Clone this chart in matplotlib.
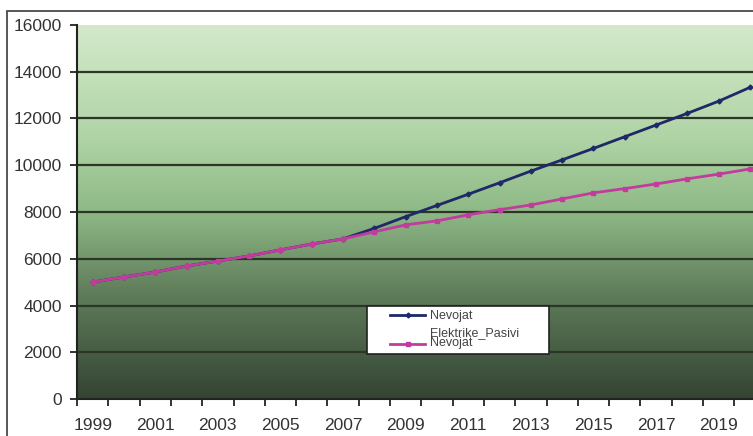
import numpy as np
import matplotlib.pyplot as plt
from matplotlib.colors import LinearSegmentedColormap
from matplotlib.patches import Rectangle
from matplotlib.legend_handler import HandlerLine2D

plt.rcParams['font.family'] = ['Liberation Sans', 'DejaVu Sans']

years = list(range(1999, 2021))
# demand, full scenario
nevojat = [5000, 5220, 5430, 5690, 5900, 6120, 6380, 6630, 6850, 7300, 7800,
           8280, 8760, 9250, 9750, 10230, 10720, 11220, 11720, 12220, 12740, 13330]
# demand with passive measures
nevojat_pasivi = [5000, 5220, 5430, 5690, 5900, 6120, 6380, 6630, 6850, 7150, 7450,
                  7620, 7880, 8100, 8300, 8560, 8820, 9000, 9200, 9420, 9620, 9840]
y_ticks = list(range(0, 16001, 2000))


class LoweredKey(HandlerLine2D):
    # legend key pushed down onto the last line of a two-line label
    def __init__(self, drop=0.0, **kw):
        super().__init__(**kw)
        self.drop = drop

    def create_artists(self, legend, orig_handle, xdescent, ydescent, width,
                       height, fontsize, trans):
        arts = super().create_artists(legend, orig_handle, xdescent, ydescent,
                                      width, height, fontsize, trans)
        for a in arts:
            a.set_ydata(np.asarray(a.get_ydata()) - self.drop * fontsize)
        return arts


fig = plt.figure(figsize=(7.53, 4.36), dpi=100)
fig.patch.set_facecolor('white')

# outer chart frame (runs off the right and bottom edges)
fig.patches.append(Rectangle((7 / 753, -0.2), 1.2, 1 - 11 / 436 + 0.2,
                             transform=fig.transFigure, fill=False,
                             edgecolor='#4a4a4a', linewidth=1.3))

ax = fig.add_axes([77 / 753, (436 - 399) / 436, 688.6 / 753, 374 / 436])

x = np.arange(len(years))
ax.set_xlim(-0.5, len(years) - 0.5)
ax.set_ylim(0, 16000)

# vertical green gradient behind the plot
grad = LinearSegmentedColormap.from_list('bg', [
    (0.0, (212 / 255, 233 / 255, 203 / 255)),
    (0.3, (176 / 255, 212 / 255, 166 / 255)),
    (0.5, (142 / 255, 185 / 255, 134 / 255)),
    (0.72, (95 / 255, 124 / 255, 90 / 255)),
    (1.0, (52 / 255, 68 / 255, 50 / 255)),
])
ax.imshow(np.linspace(0, 1, 256).reshape(-1, 1), cmap=grad, aspect='auto',
          extent=(-0.5, len(years) - 0.5, 0, 16000), origin='upper',
          interpolation='bicubic', zorder=0)

for v in y_ticks[1:-1]:
    ax.axhline(v, color='#2c3628', linewidth=1.6, zorder=1)

l1, = ax.plot(x, nevojat, color='#1f2868', linewidth=2.0, marker='D',
              markersize=2.5, label='Nevojat', zorder=3)
l2, = ax.plot(x, nevojat_pasivi, color='#c23c9e', linewidth=2.0, marker='s',
              markersize=2.5, label='Elektrike_Pasivi\nNevojat', zorder=4)

ax.set_yticks(y_ticks)
ax.set_yticklabels([str(v) for v in y_ticks])
ax.set_xticks(x[::2])
ax.set_xticklabels([str(y) for y in years[::2]])
ax.set_xticks(np.arange(-0.5, len(years), 1), minor=True)
ax.tick_params(axis='x', which='major', length=0, pad=14)
ax.tick_params(axis='x', which='minor', length=5, width=1.3, color='#222222')
ax.tick_params(axis='y', length=5, width=1.3, color='#222222', pad=6)
ax.tick_params(labelsize=12.5, labelcolor='#333333')

for s in ['top', 'right']:
    ax.spines[s].set_visible(False)
for s in ['left', 'bottom']:
    ax.spines[s].set_color('#222222')
    ax.spines[s].set_linewidth(1.5)
    ax.spines[s].set_zorder(5)

leg = ax.legend(loc='upper left',
                bbox_to_anchor=(367 / 753, 1 - 306 / 436 - 0.01, 182 / 753, 0.01),
                bbox_transform=fig.transFigure, mode='expand',
                handler_map={l1: HandlerLine2D(xpad=1.5),
                             l2: LoweredKey(drop=0.45, xpad=1.5)},
                fontsize=9, frameon=True, fancybox=False, framealpha=1,
                edgecolor='#222222', handlelength=4.3, handletextpad=0.4,
                borderpad=0.35, labelspacing=0.35, borderaxespad=0,
                labelcolor='#444444')
leg.get_frame().set_linewidth(1.2)
leg.get_texts()[1].set_linespacing(0.85)
leg.set_zorder(6)

fig.savefig('out.png', dpi=100)
